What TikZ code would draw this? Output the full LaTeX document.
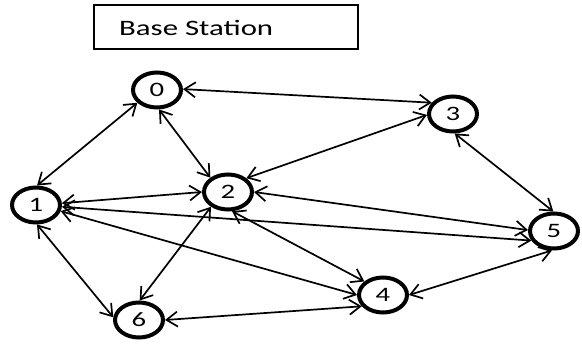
\documentclass[tikz,border=0pt]{standalone}
\usepackage{fontspec}
\setmainfont[Numbers=Lining]{Carlito}
\usetikzlibrary{arrows.meta,shapes.geometric}

\newcommand{\widetext}[1]{\scalebox{1.4}[1]{#1}}

\tikzset{
  sensor/.style={ellipse,draw,line width=4pt,minimum width=48pt,minimum height=35pt,
    inner sep=0pt,font=\fontsize{20.5}{21}\selectfont},
  link/.style={line width=1.7pt,
    {Straight Barb[length=11pt,width=15pt]}-{Straight Barb[length=11pt,width=15pt]}}
}

\begin{document}
\begin{tikzpicture}[x=1pt,y=1pt]
\useasboundingbox (0,0) rectangle (582,346);

\node[draw,line width=1.6pt,minimum width=264pt,minimum height=44pt] (bs) at (226,319) {};
\node[anchor=base west,inner sep=0pt,font=\fontsize{22}{22}\selectfont] (bslabel) at (119,310) {\widetext{Base Station}};

\node[sensor] (s0) at (157,256) {\widetext{0}};
\node[sensor] (s1) at (36,141) {\widetext{1}};
\node[sensor] (s2) at (228,154) {\widetext{2}};
\node[sensor] (s3) at (453,232) {\widetext{3}};
\node[sensor] (s4) at (383,51) {\widetext{4}};
\node[sensor] (s5) at (554,115) {\widetext{5}};
\node[sensor] (s6) at (139,26) {\widetext{6}};

\draw[link] (s0.2) -- (s3.152);
\draw[link] (s0.213) -- (s1.87);
\draw[link] (s0.276) -- (s2.141);
\draw[link] (s3.182) -- (s2.37);
\draw[link] (s3.275) -- (s5.92);
\draw[link] (s1.4) -- (s2.180);
\draw[link] (s2.0) -- (s5.178);
\draw[link] (s1.356) -- (s5.203);
\draw[link] (s1.346) -- (s4.180);
\draw[link] (s2.282) -- (s4.144);
\draw[link] (s2.221) -- (s6.88);
\draw[link] (s1.273) -- (s6.174);
\draw[link] (s6.0) -- (s4.208);
\draw[link] (s4.0) -- (s5.264);
\end{tikzpicture}
\end{document}
